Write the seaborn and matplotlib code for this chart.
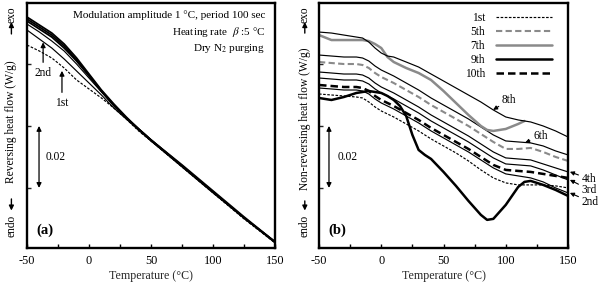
import numpy as np
import pandas as pd
import seaborn as sns
import matplotlib.pyplot as plt

# ---- panel (a): reversing heat flow (W/g) ----
T_A = [-50, -40, -30, -20, -10, 0, 10, 20, 30, 40, 50, 75, 100, 125, 150]
REV_1ST = [0.06613, 0.06419, 0.06194, 0.05871, 0.05484, 0.05194, 0.04903, 0.04581,
           0.04226, 0.03839, 0.03516, 0.02677, 0.01839, 0.01000, 0.00226]
REV_2ND = [0.07097, 0.06806, 0.06516, 0.06161, 0.05774, 0.05387, 0.05000, 0.04581,
           0.04226, 0.03871, 0.03516, 0.02677, 0.01839, 0.01032, 0.00226]
REV_3RD = [0.07290, 0.07032, 0.06742, 0.06419, 0.06000, 0.05548, 0.05097, 0.04645,
           0.04258, 0.03871, 0.03516, 0.02710, 0.01871, 0.01032, 0.00258]
REV_LATE1 = [0.07387, 0.07129, 0.06871, 0.06516, 0.06097, 0.05613, 0.05129, 0.04677,
             0.04258, 0.03903, 0.03548, 0.02710, 0.01871, 0.01032, 0.00258]
REV_LATE2 = [0.07452, 0.07194, 0.06935, 0.06581, 0.06129, 0.05645, 0.05129, 0.04677,
             0.04258, 0.03903, 0.03548, 0.02710, 0.01871, 0.01032, 0.00258]
REV_LATE3 = [0.07516, 0.07258, 0.07000, 0.06645, 0.06194, 0.05677, 0.05161, 0.04710,
             0.04290, 0.03903, 0.03548, 0.02742, 0.01903, 0.01065, 0.00258]

# ---- panel (b): non-reversing heat flow (W/g) ----
T_B = [-50, -40, -30, -20, -15, -10, -5, 0, 5, 10, 20, 30, 40, 50, 60, 70, 80, 90,
       100, 110, 120, 130, 140, 150]
NR_1ST = [0.05032, 0.05000, 0.04968, 0.04935, 0.04903, 0.04774, 0.04613, 0.04484,
          0.04387, 0.04290, 0.04065, 0.03839, 0.03581, 0.03355, 0.03129, 0.02871,
          0.02581, 0.02323, 0.02161, 0.02097, 0.02097, 0.02097, 0.02065, 0.02000]
NR_2ND = [0.05226, 0.05194, 0.05161, 0.05161, 0.05129, 0.05032, 0.04871, 0.04742,
          0.04645, 0.04548, 0.04323, 0.04097, 0.03839, 0.03613, 0.03387, 0.03161,
          0.02903, 0.02645, 0.02452, 0.02387, 0.02323, 0.02194, 0.02000, 0.01839]
NR_3RD = [0.05548, 0.05516, 0.05484, 0.05484, 0.05452, 0.05355, 0.05194, 0.05065,
          0.04968, 0.04871, 0.04645, 0.04419, 0.04161, 0.03935, 0.03710, 0.03484,
          0.03226, 0.02968, 0.02774, 0.02742, 0.02710, 0.02581, 0.02419, 0.02258]
NR_4TH = [0.05742, 0.05710, 0.05677, 0.05677, 0.05645, 0.05548, 0.05387, 0.05258,
          0.05161, 0.05065, 0.04839, 0.04613, 0.04355, 0.04129, 0.03903, 0.03677,
          0.03419, 0.03161, 0.02968, 0.02935, 0.02903, 0.02774, 0.02645, 0.02516]
NR_5TH = [0.06065, 0.06032, 0.06000, 0.06000, 0.05968, 0.05871, 0.05710, 0.05581,
          0.05484, 0.05387, 0.05161, 0.04935, 0.04677, 0.04452, 0.04226, 0.04000,
          0.03742, 0.03484, 0.03258, 0.03258, 0.03290, 0.03161, 0.03000, 0.02871]
NR_6TH = [0.06290, 0.06258, 0.06226, 0.06226, 0.06194, 0.06097, 0.05935, 0.05806,
          0.05710, 0.05613, 0.05387, 0.05161, 0.04903, 0.04677, 0.04452, 0.04226,
          0.03968, 0.03710, 0.03516, 0.03484, 0.03452, 0.03355, 0.03194, 0.03065]
NR_10TH = [0.05323, 0.05290, 0.05258, 0.05258, 0.05226, 0.05129, 0.04968, 0.04839,
           0.04742, 0.04645, 0.04419, 0.04194, 0.03935, 0.03710, 0.03484, 0.03258,
           0.03000, 0.02742, 0.02581, 0.02548, 0.02516, 0.02452, 0.02387, 0.02323]

T_7 = [-50, -40, -30, -20, -15, -10, -5, 0, 5, 10, 20, 30, 40, 50, 60, 70, 80, 85,
       90, 100, 110, 115]
NR_7TH = [0.06935, 0.06774, 0.06774, 0.06774, 0.06774, 0.06742, 0.06645, 0.06516,
          0.06226, 0.06065, 0.05871, 0.05710, 0.05484, 0.05129, 0.04742, 0.04355,
          0.04000, 0.03871, 0.03839, 0.03903, 0.04065, 0.04161]

T_8 = [-50, -40, -30, -20, -15, -10, -5, 0, 5, 10, 20, 30, 40, 50, 60, 70, 80, 90,
       100, 110, 115, 120, 130, 140, 150]
NR_8TH = [0.07032, 0.07000, 0.06935, 0.06871, 0.06839, 0.06710, 0.06516, 0.06355,
          0.06258, 0.06226, 0.06065, 0.05903, 0.05677, 0.05452, 0.05226, 0.05000,
          0.04774, 0.04516, 0.04290, 0.04194, 0.04161, 0.04129, 0.04000, 0.03839,
          0.03645]

T_9 = [-50, -40, -30, -25, -20, -15, -10, -5, 0, 5, 10, 15, 20, 25, 30, 35, 40, 50,
       60, 70, 80, 85, 90, 100, 110, 115, 120, 130, 140, 150]
NR_9TH = [0.04903, 0.04839, 0.04935, 0.05000, 0.05065, 0.05097, 0.05129, 0.05097,
          0.05065, 0.04968, 0.04839, 0.04645, 0.04323, 0.03710, 0.03226, 0.03065,
          0.02935, 0.02516, 0.02065, 0.01581, 0.01129, 0.00968, 0.01000, 0.01452,
          0.02032, 0.02194, 0.02226, 0.02097, 0.01935, 0.01742]

X_TICKS = [-50, 0, 50, 100, 150]
Y_TICKS = [0.02, 0.04, 0.06]
Y_LIM = (0.0006, 0.0797)

GRAY = "#8a8a8a"
THIN = dict(color="black", lw=0.85)
THIN_DASH = dict(color="black", lw=0.85, linestyle=(0, (2.2, 1.3)))
THICK = dict(color="black", lw=1.8)
THICK_A = dict(color="black", lw=1.3)
THICK_DASH = dict(color="black", lw=1.8, linestyle=(0, (3, 1.6)))
GRAY_SOLID = dict(color=GRAY, lw=1.8)
GRAY_DASH = dict(color=GRAY, lw=1.5, linestyle=(0, (3, 1.6)))


def draw(ax, x, y, style, label=None):
    df = pd.DataFrame({"T": x, "H": y})
    sns.lineplot(data=df, x="T", y="H", ax=ax, sort=False, estimator=None,
                 label=label, legend=False, **style)


def style_axes(ax):
    ax.set_xlim(-50, 150)
    ax.set_ylim(*Y_LIM)
    ax.set_xticks(X_TICKS)
    ax.set_xticks([-25, 25, 75, 125], minor=True)
    ax.set_yticks(Y_TICKS)
    ax.set_yticklabels([])
    ax.tick_params(which="both", direction="in", length=3, width=1,
                   labelsize=8.8, pad=5, top=False, right=False)
    for s in ax.spines.values():
        s.set_linewidth(1.7)
    ax.set_xlabel("Temperature (°C)", fontsize=8.6, labelpad=2)
    ax.set_ylabel("")


def scale_bar(ax, x, xt):
    ax.annotate("", xy=(x, 0.02), xytext=(x, 0.04),
                arrowprops=dict(arrowstyle="<|-|>", color="black", lw=0.9,
                                mutation_scale=7, shrinkA=0, shrinkB=0))
    ax.text(xt, 0.0300, "0.02", fontsize=8.3, ha="center", va="center")


def side_label(fig, x, text, y_mid, arrow_up, arrow_down):
    fig.text(x, y_mid, text, rotation=90, ha="center", va="center", fontsize=8.3)
    fig.text(x, 0.947, "exo", rotation=90, ha="center", va="center", fontsize=8.3)
    fig.text(x, 0.201, "endo", rotation=90, ha="center", va="center", fontsize=8.3)
    ap = dict(arrowstyle="-|>", color="black", lw=1.0, mutation_scale=7,
              shrinkA=0, shrinkB=0)
    fig.axes[0].annotate("", xy=(x, arrow_up[1]), xytext=(x, arrow_up[0]),
                         xycoords="figure fraction", textcoords="figure fraction",
                         arrowprops=ap, annotation_clip=False)
    fig.axes[0].annotate("", xy=(x, arrow_down[1]), xytext=(x, arrow_down[0]),
                         xycoords="figure fraction", textcoords="figure fraction",
                         arrowprops=ap, annotation_clip=False)


def main():
    sns.set_theme(style="ticks")
    plt.rcParams["font.family"] = ["Liberation Serif", "DejaVu Serif"]
    plt.rcParams["mathtext.fontset"] = "stix"
    plt.rcParams["axes.unicode_minus"] = False
    plt.rcParams["text.color"] = "black"
    plt.rcParams["xtick.color"] = "black"
    plt.rcParams["axes.edgecolor"] = "black"

    fig = plt.figure(figsize=(6.0, 2.83), dpi=100)
    ax_a = fig.add_axes([0.045, 0.1237, 0.4133, 0.8657])
    ax_b = fig.add_axes([0.5317, 0.1237, 0.415, 0.8657])

    # (a)
    draw(ax_a, T_A, REV_1ST, THIN_DASH)
    draw(ax_a, T_A, REV_2ND, THIN)
    draw(ax_a, T_A, REV_3RD, THIN)
    draw(ax_a, T_A, REV_LATE1, THICK_A)
    draw(ax_a, T_A, REV_LATE2, THICK_A)
    draw(ax_a, T_A, REV_LATE3, THICK_A)
    style_axes(ax_a)
    scale_bar(ax_a, -40.3, -26.6)
    ax_a.text(0.96, 0.951, "Modulation amplitude 1 °C, period 100 sec",
              transform=ax_a.transAxes, ha="right", va="center", fontsize=8)
    ax_a.text(0.96, 0.882, "Heating rate  $\\it{\\beta}$ :5 °C",
              transform=ax_a.transAxes, ha="right", va="center", fontsize=8)
    ax_a.text(0.96, 0.816, "Dry N$_2$ purging",
              transform=ax_a.transAxes, ha="right", va="center", fontsize=8)
    arr = dict(arrowstyle="-|>", color="black", lw=0.9, mutation_scale=7,
               shrinkA=1, shrinkB=0)
    ax_a.annotate("2nd", xy=(-37, 0.0670), xytext=(-37, 0.0571), fontsize=8.3,
                  ha="center", va="center", arrowprops=arr)
    ax_a.annotate("1st", xy=(-21.8, 0.0578), xytext=(-21.8, 0.0474), fontsize=8.3,
                  ha="center", va="center", arrowprops=arr)
    ax_a.text(0.036, 0.073, "(a)", transform=ax_a.transAxes, fontsize=10.5,
              fontweight="bold", ha="left", va="center")

    # (b)
    draw(ax_b, T_B, NR_1ST, THIN_DASH, "1st")
    draw(ax_b, T_B, NR_2ND, THIN)
    draw(ax_b, T_B, NR_3RD, THIN)
    draw(ax_b, T_B, NR_4TH, THIN)
    draw(ax_b, T_B, NR_5TH, GRAY_DASH, "5th")
    draw(ax_b, T_B, NR_6TH, THIN)
    draw(ax_b, T_7, NR_7TH, GRAY_SOLID, "7th")
    draw(ax_b, T_8, NR_8TH, THIN)
    draw(ax_b, T_9, NR_9TH, THICK, "9th")
    draw(ax_b, T_B, NR_10TH, THICK_DASH, "10th")
    style_axes(ax_b)
    scale_bar(ax_b, -42, -26.7)
    h, l = ax_b.get_legend_handles_labels()
    order = ["1st", "5th", "7th", "9th", "10th"]
    hl = dict(zip(l, h))
    ax_b.legend([hl[k] for k in order], order, loc="upper right",
                bbox_to_anchor=(0.936, 0.965), frameon=False, fontsize=8.3,
                markerfirst=False, handlelength=4.9, handletextpad=0.9,
                labelspacing=0.18, borderpad=0, borderaxespad=0)
    arr2 = dict(arrowstyle="-|>", color="black", lw=0.8, mutation_scale=6,
                shrinkA=0, shrinkB=0)
    ax_b.annotate("8th", xy=(89.8, 0.0452), xytext=(97, 0.0484), fontsize=8.3,
                  ha="left", va="center", arrowprops=arr2)
    ax_b.annotate("6th", xy=(115.5, 0.0346), xytext=(122, 0.0366), fontsize=8.3,
                  ha="left", va="center", arrowprops=arr2)
    for lab, tip, ty in [("4th", 0.0252, 0.0229), ("3rd", 0.0226, 0.0194),
                         ("2nd", 0.0184, 0.0155)]:
        ax_b.annotate(lab, xy=(151.5, tip), xytext=(161, ty), fontsize=8.3,
                      ha="left", va="center", arrowprops=arr2,
                      annotation_clip=False)
    ax_b.text(0.036, 0.073, "(b)", transform=ax_b.transAxes, fontsize=10.5,
              fontweight="bold", ha="left", va="center")

    side_label(fig, 0.0190, "Reversing heat flow (W/g)", 0.569,
               (0.880, 0.922), (0.297, 0.256))
    side_label(fig, 0.508, "Non-reversing heat flow (W/g)", 0.580,
               (0.883, 0.922), (0.290, 0.256))

    fig.savefig("out.png", dpi=100)
    plt.close(fig)


if __name__ == "__main__":
    main()
